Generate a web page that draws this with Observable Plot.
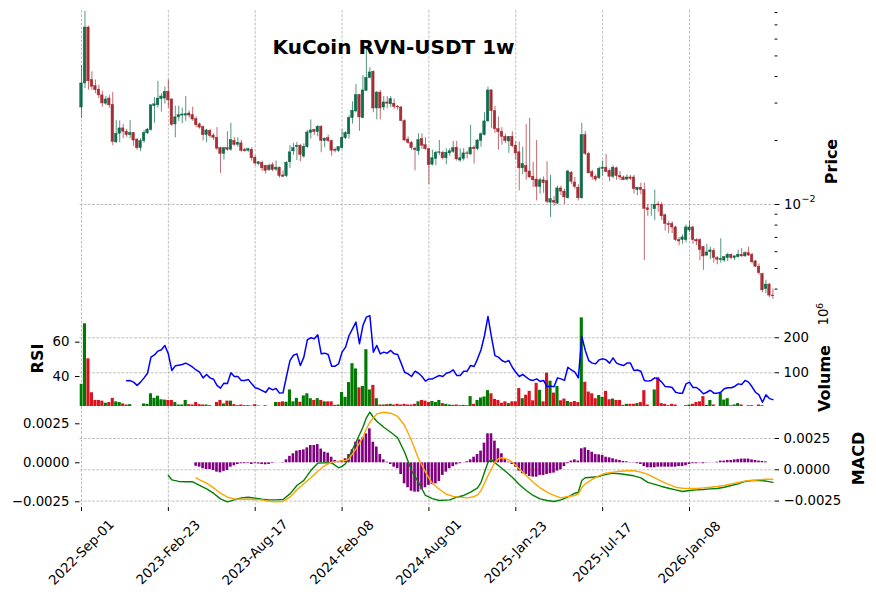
<!DOCTYPE html>
<html><head><meta charset="utf-8">
<script src="https://cdn.jsdelivr.net/npm/d3@7"></script>
<script src="https://cdn.jsdelivr.net/npm/@observablehq/plot@0.6"></script>
<style>
body{margin:0;background:#fff;}
#chart{position:relative;width:876px;height:599px;overflow:hidden;background:#fff;}
#chart svg{position:absolute;left:0;}
</style></head><body><div id="chart"></div>
<script>
// ---- categories / ticks (weekly candles, index 0 = 2022-Sep-01) ----
const tickIdx = [0,25,50,75,100,125,150,175];
const tickLabels = ["2022-Sep-01","2023-Feb-23","2023-Aug-17","2024-Feb-08","2024-Aug-01","2025-Jan-23","2025-Jul-17","2026-Jan-08"];

// ---- OHLC, prices in units of 1e-4 USDT ----
const openE4 = [286,371,680,385,360,347,326,298,315,294, 196,215,228,220,212,217,202,184,199,216, 224,290,293,313,315,339,312,238,257,262, 262,268,263,252,238,231,212,222,211,206, 184,173,184,181,199,191,194,181,179,181, 166,155,157,152,145,153,146,149,137,136, 158,178,186,189,168,186,217,224,219,232, 199,205,199,181,179,184,205,214,255,274, 327,255,343,394,421,283,336,286,302,296, 298,288,286,247,202,195,183,178,203,190, 182,154,164,175,175,165,174,177,185,161, 164,174,172,185,182,199,212,246,344,275, 226,220,208,198,208,189,176,148,152,143, 135,131,121,130,129,102,104,101,119,115, 107,141,127,120,107,212,173,142,135,133, 147,149,144,135,148,136,134,131,134,134, 117,120,117,96,95,95,100,99.5,89,81, 81,78,68,68,68,75.5,78,68,68,63, 57.5,59.7,60.5,56,54.8,54.5,56,58,56,56.5, 58,57,59,58,54,51,47,40,42,37.3];
const highE4 = [450,810,690,421,385,364,341,322,326,336, 248,247,238,226,248,218,204,204,223,228, 294,318,380,332,357,385,314,290,290,284, 322,275,287,258,242,234,226,226,215,230, 186,186,220,241,206,206,200,184,184,185, 170,159,160,153,155,157,160,150,144,159, 189,194,196,192,193,223,250,226,235,235, 206,212,201,184,187,225,220,262,304,367, 330,404,540,440,425,340,343,322,322,322, 313,292,290,250,208,198,186,215,215,206, 184,180,178,200,178,183,183,198,198,183, 183,178,236,189,202,217,270,357,347,290, 258,230,214,208,220,197,197,186,238,254, 158,200,133,135,159,137,109,122,122,118, 145,143,134,124,241,220,176,145,138,150, 160,172,147,152,150,143,136,138,137,137, 120,126,126,100,100,117,103,102,90,83, 83,79,70,72,80,83.5,79,69,69,63.5, 65,63,62,57,69,57,59,58.5,57.5,61, 62,60,63,59,54.5,52.5,47.5,44,42.5,40];
const lowE4 = [254,351,345,345,332,315,287,293,284,189, 194,195,204,207,204,188,180,177,194,214, 221,241,284,272,297,284,233,206,246,240, 246,255,246,230,226,199,195,205,200,180, 140,162,178,178,188,186,176,176,176,160, 152,152,143,139,143,143,143,133,134,134, 148,170,161,159,165,184,203,211,208,175, 185,196,169,175,176,182,202,203,239,270, 221,253,340,390,270,250,250,276,282,286, 280,278,245,198,192,180,144,170,182,180, 124,152,152,170,162,154,168,174,160,158, 160,164,170,155,179,186,210,244,228,216, 180,190,194,174,185,162,116,138,130,133, 120,104,112,113,101,87,98,100,110,100, 106,124,118,104,106,170,140,130,128,131, 136,141,128,132,130,130,130,129,130,112, 110,111,54.5,88,88,84,92,84,75,73, 73,67,64,65,66,74,65,64,54.5,49, 57,55,53,52,53,53.5,54,55,54.5,56, 56.5,56.5,57,52.5,50.5,46.5,38.5,38,36.5,35.8];
const closeE4 = [371,680,380,358,345,326,299,312,293,197, 215,228,220,212,217,200,184,199,217,225, 293,296,315,322,339,309,237,257,263,265, 266,262,251,236,230,212,223,210,206,183, 173,184,181,201,191,195,179,178,182,165, 156,158,148,144,152,145,149,136,135,157, 176,184,189,171,187,218,223,219,232,199, 204,199,179,179,186,206,217,255,276,327, 257,344,394,418,283,336,283,302,298,313, 288,286,247,200,195,184,180,201,189,182, 153,165,175,176,165,175,178,184,163,165, 174,173,185,182,200,214,246,344,275,226, 219,208,199,208,188,174,148,155,142,134, 130,121,130,126,103,106,102,119,115,108, 143,128,121,107,212,173,140,135,131,147, 149,142,135,149,136,134,130,134,132,118, 120,117,95.5,94,95,99.7,99,88,81,80, 78,68,67,70,78,78,68,67,61,57, 59.5,60.8,56,55,55.5,56.5,58,56,57,58, 57,59,57.5,53.5,51,47.5,39.5,42,37.3,37];

// ---- volume, units of 1e6 ----
const volumeM = [67,240,140,43,21,21,19,13,15,27, 17,15,11,8,9,4,4,3,11,10, 40,27,33,23,22,21,21,15,8,8, 21,9,8,15,9,8,8,6,4,15, 21,11,19,19,9,6,8,6,6,5, 9,5,4,6,3,4,15,15,17,16, 51,17,27,16,34,40,26,21,26,21, 17,17,17,7,8,44,30,72,126,111, 57,61,166,51,64,26,8,8,9,10, 8,10,8,10,8,8,10,17,21,19, 15,18,15,21,12,10,8,7,8,6, 7,6,32,10,21,28,31,49,40,24, 21,13,17,12,17,17,55,26,36,47, 20,70,50,17,99,76,42,61,20,25, 18,15,18,15,257,73,45,40,26,35, 30,47,23,25,21,21,7,10,10,10, 12,15,49,8,3,51,86,12,10,6, 10,8,3,3,6,8,10,15,17,32, 7,21,8,4,42,22,26,6,8,12, 8,3,6,6,3,8,6,3,3,2];

// ---- RSI, from index 13 ----
const rsiStart = 13;
const rsiVals = [37.5,37.6,36.7,34.8,36.7,39.2,41.9, 51.3,52.6,54.8,55.6,58.1,53.2,43.5,46.2,46.6,47, 47.8,46.8,45.4,43.8,42.5,39.2,41.2,39.2,38.4,34.8, 33.2,36.1,35.9,42.2,40,40,37.7,37.7,38.3,35.7, 33.4,32.8,31.8,30.7,33.4,32.2,33,30.3,30.5,40, 49.3,52.4,53.2,46.4,51.3,61.4,62.6,62,64.3,53.2, 53.6,52.8,46,46,47.4,54.2,57.1,63.9,67.8,71.7, 59.1,69.7,74.6,75.5,54.2,58.1,53.2,54.2,53.6,55.2, 53.2,52.8,47.8,42.5,41.5,40,43.1,41.9,40,37.3, 38.6,38.6,39.6,40.6,40,41.9,42.5,43.9,40.6,40.6, 43.1,43.1,46.4,45.8,50.3,55.6,63.9,75,62.9,52.2, 51.3,49.3,48.4,49.3,45.4,42.5,40,41.2,39.6,38.1, 37.7,38.6,37.1,37.7,34,34.4,34,39.2,38.6,37.7, 45.4,43.8,42.5,39.2,63.3,55.2,49.3,47.8,47.4,49.7, 50.3,49.7,47.8,50.9,47.8,47,46.4,47.8,47.8,43.5, 43.8,43.1,37.7,37.3,37.7,39.2,38.6,36.7,34.2,34, 33.6,30.8,30.3,30.3,35.7,36.7,33.6,33.6,32,29.9, 30.8,32,30.3,30.3,30.8,32.8,33.4,33.4,34.2,35.7, 35.3,37.7,36.7,34,30.8,29.3,25,29.3,27.1,26.5];

// ---- MACD line and signal: [index, value] read points ----
const macdLine = [[25,-0.00046],[26,-0.0008],[28,-0.00093],[30,-0.00096],[32,-0.00096],[34,-0.00125],[36,-0.00152],[38,-0.00187],[40,-0.00232],[42,-0.00256],[44,-0.0024],[46,-0.00224],[48,-0.00219],[50,-0.00227],[52,-0.00235],[54,-0.0024],[56,-0.0024],[58,-0.00237],[60,-0.00192],[62,-0.00125],[64,-0.00085],[66,-0.00006],[68,0.00053],[70,0.00055],[72,0.00055],[74,0.00016],[75,0.00027],[76,0.00048],[77,0.00106],[79,0.0022],[81,0.0034],[82,0.00415],[83,0.0046],[84,0.0042],[85,0.00388],[87,0.0034],[89,0.003],[91,0.00256],[93,0.0014],[95,-0.00006],[97,-0.001],[99,-0.00205],[101,-0.0023],[103,-0.00245],[106,-0.0024],[108,-0.00219],[110,-0.00205],[112,-0.00179],[114,-0.00144],[115,-0.001],[116,-0.00019],[117,0.00061],[118,0.00079],[120,0.00034],[122,-0.00011],[124,-0.00059],[126,-0.00117],[128,-0.00165],[130,-0.00205],[132,-0.00232],[134,-0.00245],[136,-0.00253],[138,-0.0024],[140,-0.00219],[142,-0.00187],[143,-0.00179],[144,-0.00085],[145,-0.00064],[147,-0.00059],[149,-0.00053],[151,-0.00037],[153,-0.00027],[155,-0.00032],[157,-0.0004],[159,-0.00048],[161,-0.00064],[163,-0.001],[165,-0.00117],[167,-0.00133],[169,-0.00147],[171,-0.0016],[173,-0.00173],[175,-0.00165],[177,-0.0016],[179,-0.00157],[181,-0.00152],[183,-0.00149],[185,-0.00139],[187,-0.00125],[189,-0.00112],[191,-0.00093],[193,-0.00085],[195,-0.00085],[197,-0.0009],[199,-0.001]];
const signalLine = [[33,-0.00064],[34,-0.0008],[36,-0.00107],[38,-0.00144],[40,-0.00187],[42,-0.00219],[44,-0.00232],[46,-0.00235],[48,-0.00235],[50,-0.00237],[52,-0.0024],[54,-0.00251],[56,-0.00256],[58,-0.00253],[60,-0.00219],[62,-0.0016],[64,-0.00112],[66,-0.00064],[68,-0.00011],[70,0.00034],[72,0.00061],[74,0.00069],[76,0.00074],[77,0.00088],[79,0.00168],[81,0.0026],[82,0.00328],[83,0.0038],[85,0.00447],[87,0.0046],[89,0.00452],[91,0.00426],[93,0.00354],[95,0.00234],[97,0.00088],[99,-0.00019],[101,-0.0011],[103,-0.00155],[105,-0.00195],[107,-0.00212],[109,-0.0022],[111,-0.00224],[113,-0.00215],[114,-0.002],[115,-0.00165],[116,-0.00107],[117,-0.00046],[118,0.00008],[119,0.00061],[120,0.00088],[121,0.00096],[122,0.00088],[123,0.00079],[124,0.00061],[125,0.00034],[126,0.00008],[128,-0.00046],[130,-0.001],[132,-0.00144],[134,-0.00179],[136,-0.00205],[138,-0.00224],[140,-0.00213],[142,-0.00205],[143,-0.00192],[144,-0.00144],[145,-0.00112],[147,-0.00077],[149,-0.00046],[151,-0.00027],[153,-0.00019],[155,-0.00011],[157,-0.00008],[159,-0.00008],[161,-0.00019],[163,-0.00037],[165,-0.00064],[167,-0.00093],[169,-0.00117],[171,-0.00139],[173,-0.00147],[175,-0.00149],[177,-0.00149],[179,-0.00144],[181,-0.00139],[183,-0.00133],[185,-0.00125],[187,-0.00112],[189,-0.00101],[191,-0.0009],[193,-0.00085],[195,-0.0008],[197,-0.00075],[199,-0.00075]];

// ---- MACD histogram, from index 33 ----
const histStart = 33;
const histVals = [-0.00022,-0.00028,-0.00038,-0.00043,-0.00043,-0.00049,-0.0006, -0.00064,-0.00055,-0.00049,-0.00028,-0.00019,-0.00011,-0.00006,-0.00006,-0.00004,-0.00011, -0.00006,-0.00008,-0.00011,-0.00013,-0.00011,-0.00004,0.00001,0.00001,0.00002,0.00019, 0.00041,0.00058,0.00075,0.00079,0.00083,0.00096,0.00111,0.00111,0.00117,0.00088, 0.00068,0.00062,0.00036,0.00015,0.00004,0.00015,0.00026,0.00053,0.00083,0.00132, 0.00147,0.0016,0.00186,0.00218,0.00132,0.00101,0.00053,0.00019,0.00004,-0.00011, -0.00028,-0.00038,-0.00075,-0.00135,-0.0016,-0.00182,-0.00188,-0.00188,-0.00173,-0.0016, -0.00145,-0.0014,-0.00135,-0.0012,-0.00081,-0.0006,-0.00038,-0.00024,-0.00013,-0.00006, 0.00001,0.00006,0.00019,0.00036,0.00053,0.00075,0.00126,0.00186,0.00186,0.00139, 0.0009,0.00058,0.00026,0.00004,-0.00011,-0.00028,-0.00053,-0.0007,-0.00075,-0.00088, -0.00092,-0.00092,-0.00081,-0.00081,-0.00075,-0.0007,-0.00066,-0.00053,-0.00045,-0.00024, -0.00006,0.00011,0.00019,0.00011,0.0009,0.00096,0.00079,0.00068,0.00053,0.00051, 0.00047,0.00036,0.00032,0.00026,0.00019,0.00015,0.00009,0.00006,0.00002,-0.00002, -0.00006,-0.00011,-0.00024,-0.00032,-0.00032,-0.00032,-0.00028,-0.00028,-0.00028,-0.00028, -0.00028,-0.00028,-0.00024,-0.00024,-0.00019,-0.00011,-0.00006,-0.00006,-0.00002,-0.00006, -0.00002,0.00001,0.00001,0.00004,0.00011,0.00011,0.00015,0.00015,0.00019,0.00021, 0.00024,0.00024,0.00024,0.00019,0.00015,0.00011,0.00009,0.00006];

// ---- build tables ----
const candles = openE4.map((o, i) => ({i, o: o*1e-4, h: highE4[i]*1e-4, l: lowE4[i]*1e-4, c: closeE4[i]*1e-4, v: volumeM[i]}));
const up = candles.filter(d => d.c >= d.o);
const dn = candles.filter(d => d.c < d.o);
const rsi = rsiVals.map((v, k) => ({i: k + rsiStart, v}));
const macd = macdLine.map(([i, v]) => ({i, v}));
const signal = signalLine.map(([i, v]) => ({i, v}));
const hist = histVals.map((v, k) => ({i: k + histStart, v}));
const ticks = tickIdx.map((i, k) => ({i, label: tickLabels[k]}));

// ---- styling ----
const FONT = "DejaVu Sans";
const UP = "#006340", DN = "#a02128";
const VUP = "#007a00", VDN = "#d7141e";
const GRID = "#b0b0b0", DASH = "2.8,1.4";
const base = {
  width: 876, marginLeft: 79.5, marginRight: 102.4,
  style: {background: "transparent", fontFamily: FONT, fontSize: "13.3px", color: "#000", overflow: "visible"}
};
const xs = {domain: [-0.43, 199.35], axis: null};
const gridX = Plot.ruleX(tickIdx, {stroke: GRID, strokeWidth: 0.8, strokeDasharray: DASH});
const fmt4 = d3.format(".4f");

function place(svg, top) { svg.style.top = top + "px"; document.getElementById("chart").appendChild(svg); }

// ---- price panel ----
const pricePlot = Plot.plot({
  ...base, height: 308, marginTop: 10, marginBottom: 0,
  x: xs,
  y: {type: "log", domain: [0.003242, 0.08177], axis: null},
  marks: [
    gridX,
    Plot.ruleY([0.01], {stroke: GRID, strokeWidth: 0.8, strokeDasharray: DASH}),
    Plot.ruleX(up, {x: "i", y1: "l", y2: "h", stroke: UP, strokeWidth: 0.9, strokeOpacity: 0.75}),
    Plot.ruleX(dn, {x: "i", y1: "l", y2: "h", stroke: DN, strokeWidth: 0.9, strokeOpacity: 0.75}),
    Plot.rect(up, {x1: d => d.i - 0.36, x2: d => d.i + 0.36, y1: "o", y2: "c", fill: UP, fillOpacity: 0.9, stroke: UP, strokeOpacity: 0.9, strokeWidth: 0.5}),
    Plot.rect(dn, {x1: d => d.i - 0.36, x2: d => d.i + 0.36, y1: "o", y2: "c", fill: DN, fillOpacity: 0.9, stroke: DN, strokeOpacity: 0.9, strokeWidth: 0.5}),
    Plot.axisY([0.004,0.005,0.006,0.007,0.008,0.009,0.02,0.03,0.04,0.05,0.06,0.07,0.08], {anchor: "right", tickSize: 2.8, tickFormat: () => "", label: null}),
    Plot.axisY([0.01], {anchor: "right", tickSize: 4.9, tickPadding: 5, tickFormat: () => "10", label: null}),
    Plot.text([0.01], {y: d => d, text: () => "\u22122", frameAnchor: "right", dx: 27.4, dy: -6, textAnchor: "start", lineAnchor: "middle", fontSize: 9.5}),
    Plot.text(["Price"], {text: d => d, frameAnchor: "right", dx: 58, dy: 2, rotate: -90, textAnchor: "middle", lineAnchor: "middle", fontSize: 16, fontWeight: "bold"}),
    Plot.text(["KuCoin RVN-USDT 1w"], {text: d => d, frameAnchor: "top", dx: -33.5, dy: 37, textAnchor: "middle", lineAnchor: "middle", fontSize: 20, fontWeight: "bold"})
  ]
});
place(pricePlot, 0);

// ---- volume panel ----
const volPlot = Plot.plot({
  ...base, height: 98, marginTop: 0, marginBottom: 0,
  x: xs,
  y: {domain: [3.7, 283.7], axis: null},
  marks: [
    gridX,
    Plot.ruleY([100, 200], {stroke: GRID, strokeWidth: 0.8, strokeDasharray: DASH}),
    Plot.rect(up, {x1: d => d.i - 0.45, x2: d => d.i + 0.45, y1: 0, y2: "v", fill: VUP, clip: true}),
    Plot.rect(dn, {x1: d => d.i - 0.45, x2: d => d.i + 0.45, y1: 0, y2: "v", fill: VDN, clip: true}),
    Plot.axisY([100, 200], {anchor: "right", tickSize: 4.5, tickPadding: 5, tickFormat: d => String(d), label: null}),
    Plot.text(["Volume"], {text: d => d, frameAnchor: "right", dx: 51, dy: 21, rotate: -90, textAnchor: "middle", lineAnchor: "middle", fontSize: 16, fontWeight: "bold"}),
    Plot.text(["10"], {text: d => d, frameAnchor: "right", dx: 49.4, dy: -40.5, rotate: -90, textAnchor: "middle", lineAnchor: "middle", fontSize: 13.3}),
    Plot.text(["6"], {text: d => d, frameAnchor: "right", dx: 45.4, dy: -51.5, rotate: -90, textAnchor: "middle", lineAnchor: "middle", fontSize: 9.5})
  ]
});
place(volPlot, 308);

// ---- RSI overlay (left axis) ----
const rsiPlot = Plot.plot({
  ...base, height: 98, marginTop: 0, marginBottom: 0,
  x: xs,
  y: {domain: [22.5, 79.65], axis: null},
  marks: [
    Plot.line(rsi, {x: "i", y: "v", stroke: "#0000ff", strokeWidth: 1.5}),
    Plot.axisY([40, 60], {anchor: "left", tickSize: 4.5, tickPadding: 6, tickFormat: d => String(d), label: null}),
    Plot.text(["RSI"], {text: d => d, frameAnchor: "left", dx: -42.5, dy: 1, rotate: -90, textAnchor: "middle", lineAnchor: "middle", fontSize: 16, fontWeight: "bold"})
  ]
});
place(rsiPlot, 308);

// ---- MACD panel: grid + x axis (right scale) ----
const macdDomainR = [-0.003012, 0.005058];
const macdGrid = Plot.plot({
  ...base, height: 193, marginTop: 0, marginBottom: 92,
  x: xs,
  y: {domain: macdDomainR, axis: null},
  marks: [
    gridX,
    Plot.ruleY([-0.0025, 0, 0.0025], {stroke: GRID, strokeWidth: 0.8, strokeDasharray: DASH}),
    Plot.axisX(tickIdx, {anchor: "bottom", tickSize: 4, tickFormat: () => "", label: null}),
    Plot.text(ticks, {x: "i", text: "label", frameAnchor: "bottom", dy: 45, rotate: -45, textAnchor: "middle", lineAnchor: "middle", fontSize: 13.3})
  ]
});
place(macdGrid, 406);

// ---- MACD histogram (left scale) ----
const macdHist = Plot.plot({
  ...base, height: 193, marginTop: 0, marginBottom: 92,
  x: xs,
  y: {domain: [-0.002865, 0.003609], axis: null},
  marks: [
    Plot.rect(hist, {x1: d => d.i - 0.38, x2: d => d.i + 0.38, y1: 0, y2: "v", fill: "#800080"}),
    Plot.axisY([-0.0025, 0, 0.0025], {anchor: "left", tickSize: 4.5, tickPadding: 6, tickFormat: fmt4, label: null})
  ]
});
place(macdHist, 406);

// ---- MACD lines (right scale) ----
const macdLines = Plot.plot({
  ...base, height: 193, marginTop: 0, marginBottom: 92,
  x: xs,
  y: {domain: macdDomainR, axis: null},
  marks: [
    Plot.line(macd, {x: "i", y: "v", stroke: "#008000", strokeWidth: 1.4}),
    Plot.line(signal, {x: "i", y: "v", stroke: "#ffa500", strokeWidth: 1.4}),
    Plot.axisY([-0.0025, 0, 0.0025], {anchor: "right", tickSize: 4.5, tickPadding: 5, tickFormat: fmt4, label: null}),
    Plot.text(["MACD"], {text: d => d, frameAnchor: "right", dx: 84.4, dy: 1.5, rotate: -90, textAnchor: "middle", lineAnchor: "middle", fontSize: 16, fontWeight: "bold"})
  ]
});
place(macdLines, 406);
</script>
</body></html>
